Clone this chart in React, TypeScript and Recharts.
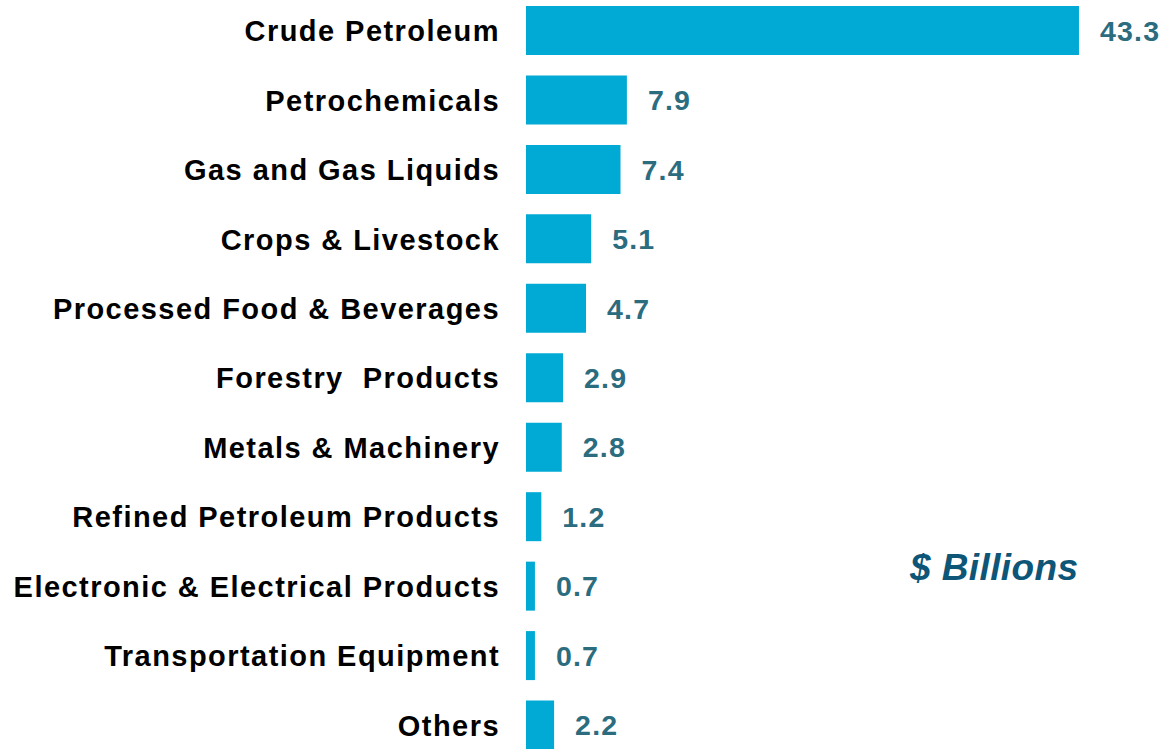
import React from "react";
import { Bar, BarChart, LabelList, XAxis, YAxis } from "recharts";

const categories = [
  "Crude Petroleum",
  "Petrochemicals",
  "Gas and Gas Liquids",
  "Crops & Livestock",
  "Processed Food & Beverages",
  "Forestry  Products",
  "Metals & Machinery",
  "Refined Petroleum Products",
  "Electronic & Electrical Products",
  "Transportation Equipment",
  "Others",
];

const values = [43.3, 7.9, 7.4, 5.1, 4.7, 2.9, 2.8, 1.2, 0.7, 0.7, 2.2];

const unitLabel = "$ Billions";

const data = categories.map((name, i) => ({ name, value: values[i] }));

const BAR_COLOR = "#00aad4";
const VALUE_COLOR = "#2b6c7f";
const UNIT_COLOR = "#0d5677";
const FONT = "Arial, 'Liberation Sans', Helvetica, sans-serif";

function CategoryTick(props: any) {
  const { x, y, payload } = props;
  return (
    <text
      x={x}
      y={y}
      dy="0.36em"
      textAnchor="end"
      fill="#000"
      fontFamily={FONT}
      fontWeight={700}
      fontSize={29}
      letterSpacing={1.45}
      style={{ whiteSpace: "pre" }}
    >
      {payload.value}
    </text>
  );
}

function ValueLabel(props: any) {
  const { x, y, width, height, value } = props;
  return (
    <text
      x={x + width + 21}
      y={y + height / 2}
      dy="0.36em"
      textAnchor="start"
      fill={VALUE_COLOR}
      fontFamily={FONT}
      fontWeight={700}
      fontSize={28.5}
      letterSpacing={1.2}
    >
      {Number(value).toFixed(1)}
    </text>
  );
}

export default function App() {
  return (
    <div style={{ position: "absolute", left: 0, top: 0, width: 1163, height: 749, overflow: "hidden", background: "#fff" }}>
      <div style={{ position: "absolute", left: 0, top: -4 }}>
        <BarChart
          width={1163}
          height={764}
          data={data}
          layout="vertical"
          margin={{ top: 0, right: 24, bottom: 0, left: 0 }}
        >
          <XAxis type="number" domain={[0, 48]} hide />
          <YAxis
            type="category"
            dataKey="name"
            width={526}
            axisLine={false}
            tickLine={false}
            tickSize={0}
            tickMargin={26}
            interval={0}
            tick={<CategoryTick />}
          />
          <Bar dataKey="value" fill={BAR_COLOR} barSize={49} isAnimationActive={false}>
            <LabelList dataKey="value" content={<ValueLabel />} />
          </Bar>
        </BarChart>
      </div>
      <svg width={1163} height={749} style={{ position: "absolute", left: 0, top: 0, pointerEvents: "none" }}>
        <text
          x={910}
          y={580}
          fill={UNIT_COLOR}
          fontFamily={FONT}
          fontWeight={700}
          fontStyle="italic"
          fontSize={37}
          letterSpacing={0.4}
        >
          {unitLabel}
        </text>
      </svg>
    </div>
  );
}
